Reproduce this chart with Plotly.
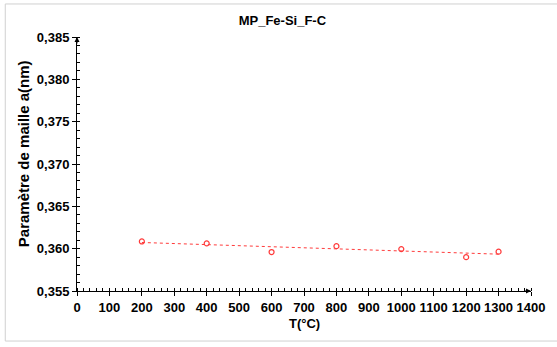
import numpy as np
import plotly.graph_objects as go

# data
temperature = [200, 400, 600, 800, 1000, 1200, 1300]
lattice_a = [0.36085, 0.36062, 0.3596, 0.3603, 0.35995, 0.3590, 0.35965]

x_ticks = list(range(0, 1401, 100))
y_ticks = [0.355, 0.360, 0.365, 0.370, 0.375, 0.380, 0.385]

# linear trend line through the points
slope, intercept = np.polyfit(temperature, lattice_a, 1)
trend_x = [min(temperature), max(temperature)]
trend_y = [slope * t + intercept for t in trend_x]

red = '#ff3b3b'
font_bold = 'Liberation Sans'

fig = go.Figure()

fig.add_trace(go.Scatter(
    x=trend_x, y=trend_y,
    mode='lines',
    line=dict(color=red, width=1, dash='dot'),
    hoverinfo='skip',
    showlegend=False
))

fig.add_trace(go.Scatter(
    x=temperature, y=lattice_a,
    mode='markers',
    marker=dict(symbol='circle-open', size=5, color=red, line=dict(width=1.2, color=red)),
    showlegend=False
))

axis_common = dict(
    showgrid=False,
    zeroline=False,
    showline=True,
    linecolor='black',
    linewidth=1,
    ticks='outside',
    ticklen=4,
    tickcolor='black',
    tickfont=dict(family=font_bold, size=13, color='black', weight='bold'),
)

fig.update_xaxes(
    range=[0, 1400],
    tickvals=x_ticks,
    ticktext=[str(v) for v in x_ticks],
    minor=dict(ticks='inside', ticklen=3, tickcolor='black', dtick=20),
    **axis_common
)
fig.update_yaxes(
    range=[0.355, 0.385],
    tickvals=y_ticks,
    ticktext=[f'{v:.3f}'.replace('.', ',') for v in y_ticks],
    minor=dict(ticks='inside', ticklen=3, tickcolor='black', dtick=0.001),
    **axis_common
)

# light frame around the chart (top, left, bottom only)
frame = dict(type='line', xref='paper', yref='paper', line=dict(color='#d0d0d0', width=1), layer='below')
x_left, x_right, y_bot, y_top = -0.158, 1.2, -0.197, 1.13

fig.update_layout(
    width=557,
    height=347,
    margin=dict(l=77, r=24, t=37, b=56),
    paper_bgcolor='white',
    plot_bgcolor='white',
    title=dict(
        text='MP_Fe-Si_F-C',
        x=0.507, xref='container', xanchor='center',
        y=0.941, yref='container', yanchor='middle',
        font=dict(family=font_bold, size=13, color='black', weight='bold')
    ),
    annotations=[
        dict(text='T(°C)', xref='paper', yref='paper', x=0.5, y=-0.127,
             xanchor='center', yanchor='middle', showarrow=False,
             font=dict(family=font_bold, size=13, color='black', weight='bold')),
        dict(text='Paramètre de maille a(nm)', xref='paper', yref='paper',
             x=-0.116, y=0.54, xanchor='center', yanchor='middle', textangle=-90,
             showarrow=False,
             font=dict(family=font_bold, size=15, color='black', weight='bold')),
        # axis end arrows
        dict(xref='paper', yref='paper', x=0, y=1, ax=0, ay=8, axref='pixel', ayref='pixel',
             showarrow=True, arrowhead=2, arrowsize=1, arrowwidth=1, arrowcolor='black', text=''),
        dict(xref='paper', yref='paper', x=1, y=0, ax=-8, ay=0, axref='pixel', ayref='pixel',
             showarrow=True, arrowhead=2, arrowsize=1, arrowwidth=1, arrowcolor='black', text=''),
    ],
    shapes=[
        dict(frame, x0=x_left, x1=x_right, y0=y_top, y1=y_top),
        dict(frame, x0=x_left, x1=x_right, y0=y_bot, y1=y_bot),
        dict(frame, x0=x_left, x1=x_left, y0=y_bot, y1=y_top),
    ],
)

fig.write_html('out.html', config={'displayModeBar': False},
               post_script="document.body.style.margin='0';")
